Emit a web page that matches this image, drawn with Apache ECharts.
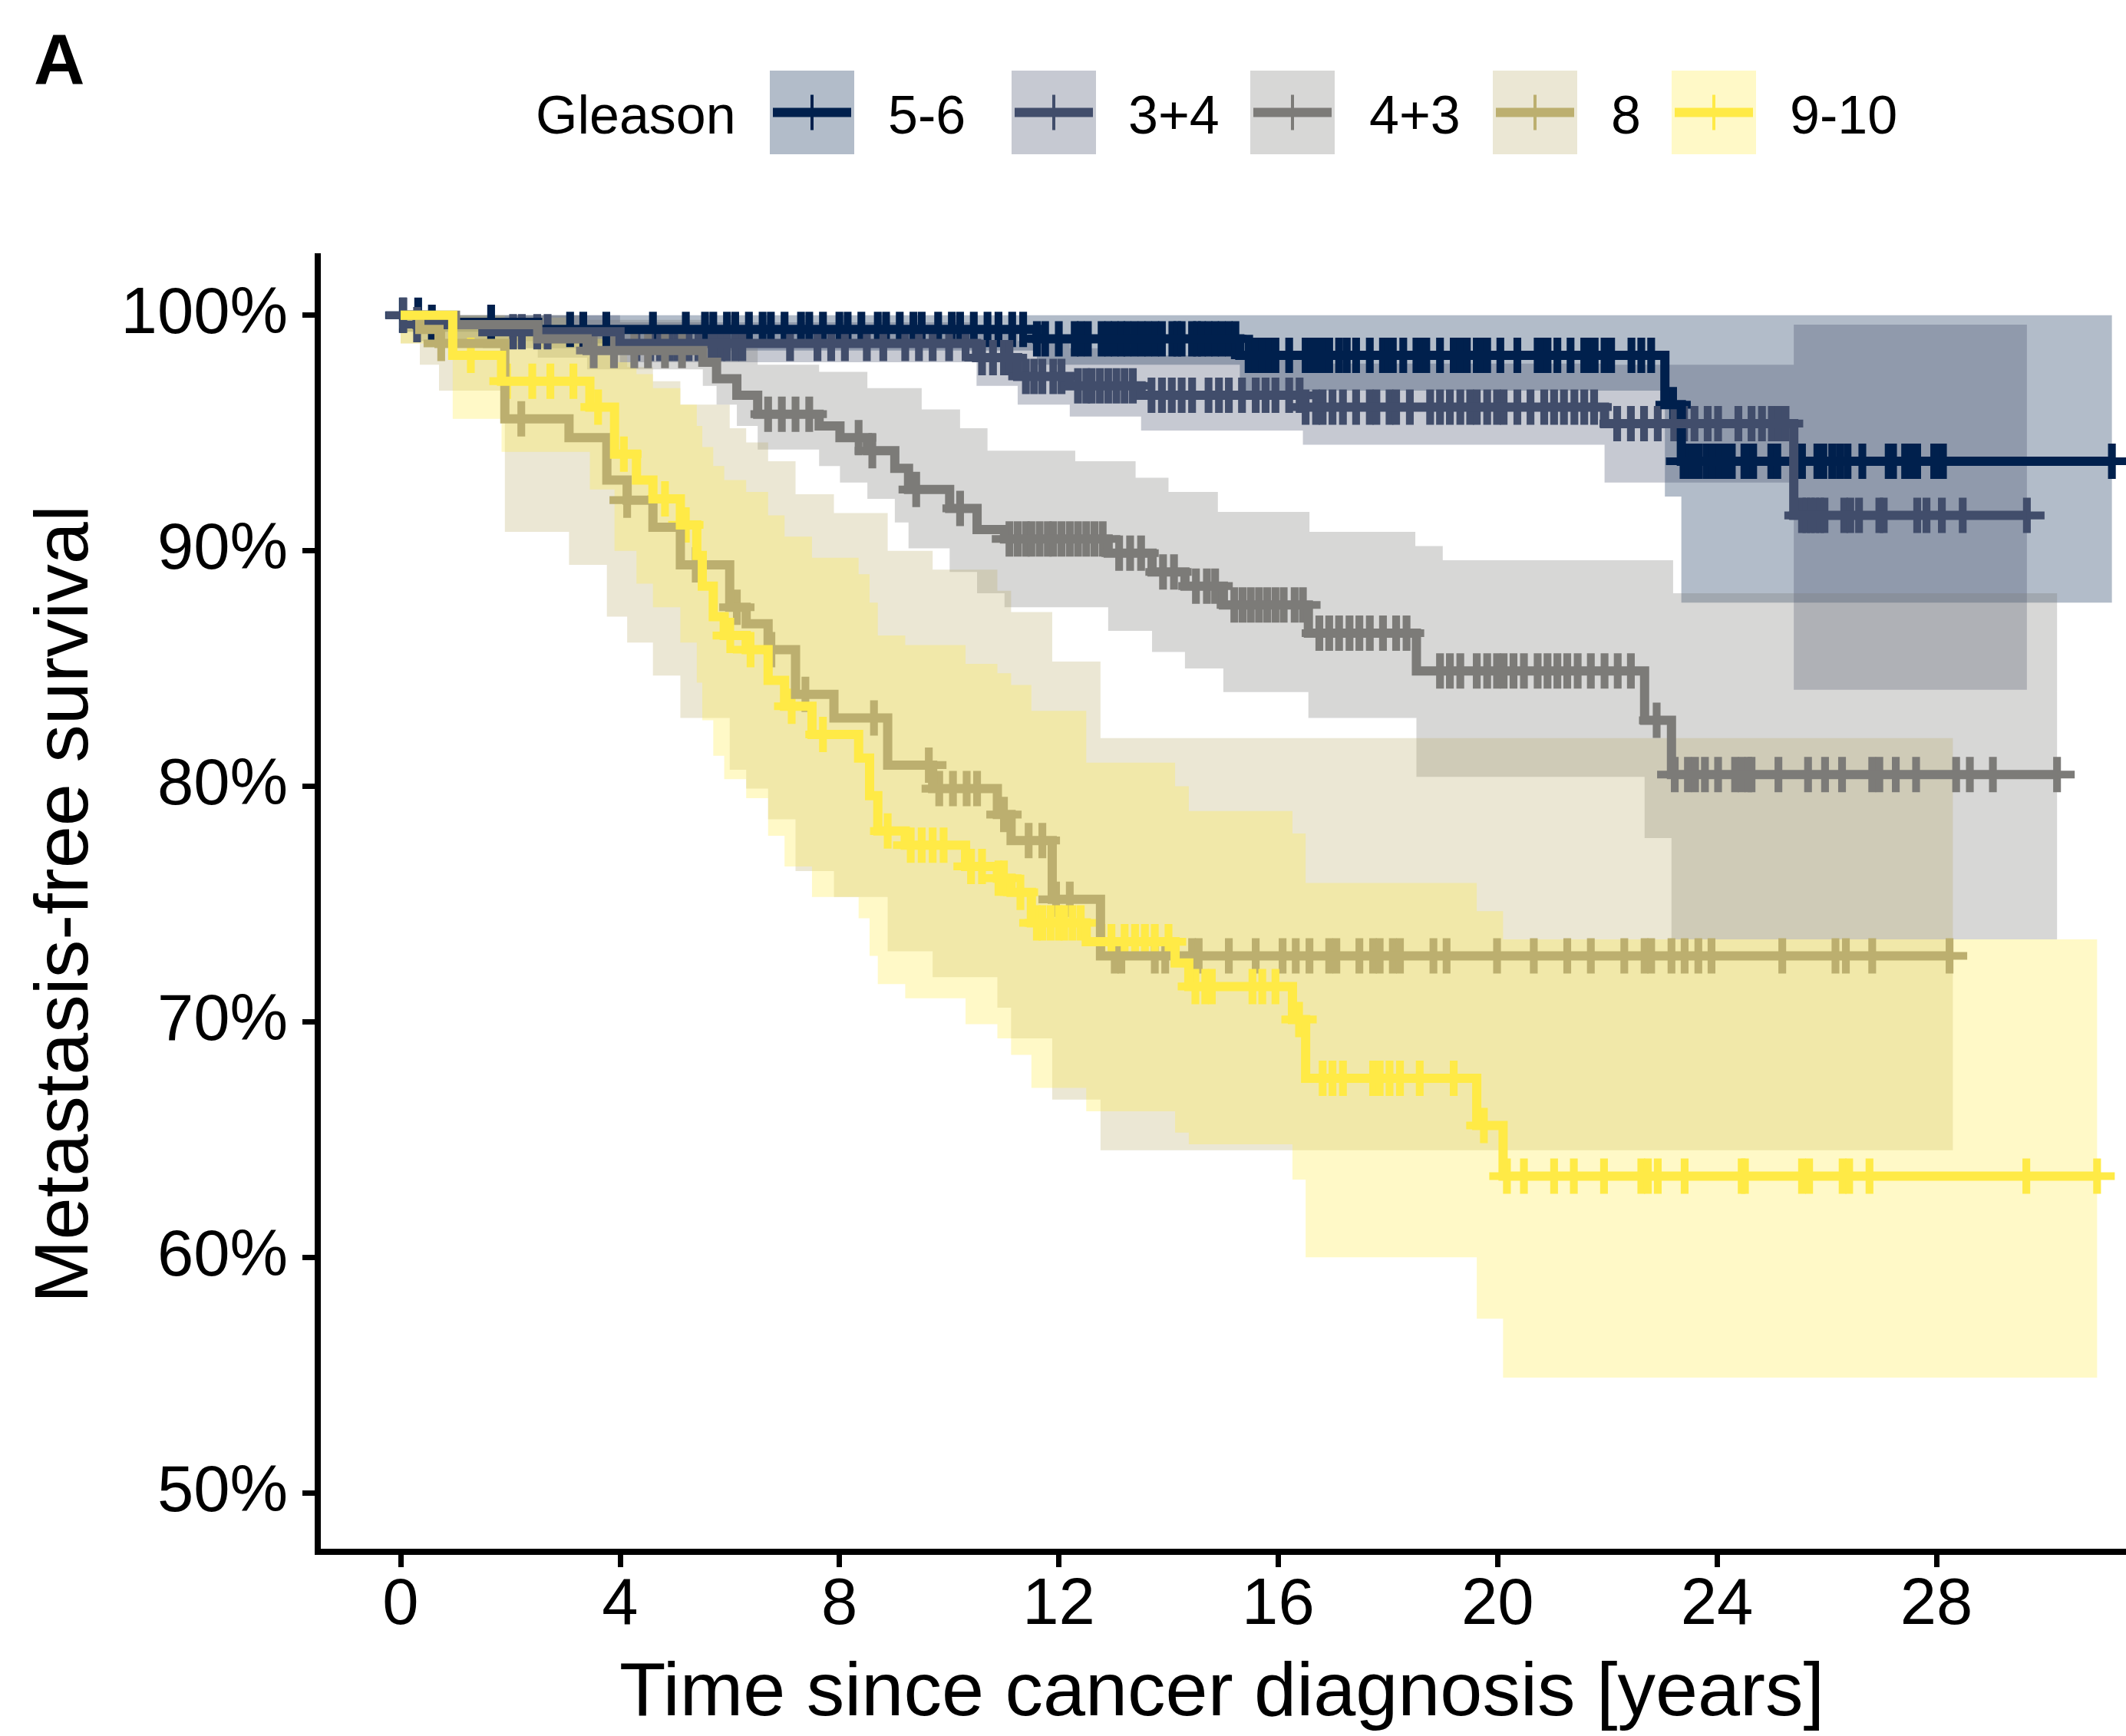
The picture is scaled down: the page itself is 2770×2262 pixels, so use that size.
<!DOCTYPE html>
<html>
<head>
<meta charset="utf-8">
<title>Metastasis-free survival by Gleason score</title>
<script src="https://cdn.jsdelivr.net/npm/echarts@6/dist/echarts.min.js"></script>
<style>
  html, body { margin: 0; padding: 0; background: #ffffff; }
  #chart { width: 2770px; height: 2262px; }
</style>
</head>
<body>
<div id="chart"></div>
<script>
// ---- data -------------------------------------------------------------
const groupNames = ['5-6', '3+4', '4+3', '8', '9-10'];
const xTickValues = [0, 4, 8, 12, 16, 20, 24, 28];
const yTickValues = [50, 60, 70, 80, 90, 100];

// Kaplan-Meier estimates: [time in years, survival %] at each step
const surv_5_6 = [[0,100],[0.45,99.7],[2.5,99.4],[11.6,99.0],[15.3,98.3],[23.05,96.2],[23.35,93.8]];
const surv_3_4 = [[0,100],[0.3,99.6],[1.5,99.3],[4.0,98.8],[10.5,98.2],[11.25,97.4],[12.2,97.0],[13.5,96.6],[16.45,96.1],[21.95,95.4],[25.4,91.5]];
const surv_4_3 = [[0,100],[1.0,99.6],[2.5,99.0],[3.4,98.5],[5.51,98.0],[5.76,97.3],[6.13,96.6],[6.51,95.8],[7.63,95.3],[8.01,94.8],[8.51,94.25],[9.01,93.5],[9.26,92.6],[10.01,91.8],[10.51,90.9],[11.01,90.5],[12.9,89.9],[13.7,89.1],[14.3,88.5],[15.0,87.7],[16.55,86.5],[18.52,84.9],[22.68,82.8],[23.17,80.5]];
const surv_8 = [[0,100],[0.35,99.4],[0.7,98.8],[1.9,95.6],[3.07,94.8],[3.76,93.0],[4.13,92.15],[4.6,91.0],[5.1,89.4],[6.0,87.6],[6.3,86.9],[6.7,85.8],[7.2,83.9],[7.9,82.9],[8.88,80.9],[9.7,79.9],[10.88,78.8],[11.13,77.7],[11.88,75.2],[12.76,72.8]];
const surv_9_10 = [[0,100],[0.95,98.3],[1.84,97.2],[3.45,96.1],[3.9,94.1],[4.3,93.0],[4.6,92.2],[5.1,91.1],[5.4,89.8],[5.5,88.5],[5.7,87.2],[5.9,86.4],[6.3,85.8],[6.7,84.5],[7.0,83.4],[7.5,82.2],[8.35,81.2],[8.55,79.6],[8.7,78.1],[9.2,77.5],[10.3,76.6],[10.88,76.1],[11.13,75.5],[11.5,74.2],[12.5,73.4],[14.12,72.5],[14.37,71.5],[16.26,70.1],[16.5,67.6],[19.62,65.6],[20.1,63.45]];

// last follow-up time of each group
const lastTime = [31.2, 29.65, 30.2, 28.3, 30.93];

// 95% confidence limits, as steps
const upper_5_6 = [[0,100]];
const lower_5_6 = [[0,99.7],[0.45,99.3],[2.5,98.8],[6.0,98.5],[11.6,97.9],[15.3,96.8],[23.05,92.3],[23.35,87.8]];
const upper_3_4 = [[0,100],[4.0,99.7],[10.5,99.4],[11.25,98.9],[12.2,98.6],[13.5,98.3],[16.45,97.95],[21.95,97.9],[25.4,99.6]];
const lower_3_4 = [[0,99.3],[0.3,98.9],[1.5,98.6],[4.0,98.0],[10.5,97.0],[11.25,96.2],[12.2,95.7],[13.5,95.1],[16.45,94.5],[21.95,92.9],[25.4,84.1]];
const upper_4_3 = [[0,100],[3.4,99.8],[5.51,99.5],[5.76,99.1],[6.13,98.6],[6.51,97.9],[7.63,97.6],[8.51,96.9],[9.5,96.0],[10.2,95.2],[10.7,94.25],[12.3,93.8],[13.4,93.1],[14.0,92.5],[14.9,91.65],[16.57,90.8],[18.5,90.2],[19.0,89.6],[23.2,88.2]];
const lower_4_3 = [[0,99.3],[1.0,98.9],[2.5,98.2],[3.4,97.7],[5.51,97.0],[5.76,96.2],[6.13,95.3],[6.51,94.3],[7.63,93.6],[8.01,92.9],[8.51,92.2],[9.01,91.2],[9.26,90.1],[10.01,89.1],[10.51,88.2],[11.01,87.6],[12.9,86.6],[13.7,85.7],[14.3,85.0],[15.0,84.0],[16.55,82.9],[18.52,80.4],[22.68,77.8],[23.17,73.5]];
const upper_8 = [[0,100],[1.9,99.9],[3.07,99.2],[3.76,98.3],[4.13,97.8],[4.6,97.2],[5.1,96.2],[6.0,95.2],[6.3,94.6],[6.7,93.8],[7.2,92.4],[7.9,91.6],[8.88,90.0],[9.7,89.2],[10.88,88.3],[11.13,87.4],[11.88,85.3],[12.76,82.05]];
const lower_8 = [[0,98.8],[0.35,97.9],[0.7,96.8],[1.9,90.8],[3.07,89.4],[3.76,87.2],[4.13,86.1],[4.6,84.7],[5.1,82.9],[6.0,80.7],[6.3,79.9],[6.7,78.6],[7.2,76.4],[7.9,75.3],[8.88,73.0],[9.7,71.9],[10.88,70.6],[11.13,69.3],[11.88,66.7],[12.76,64.55]];
const upper_9_10 = [[0,100],[0.95,99.9],[1.84,99.5],[3.45,99.0],[3.9,98.0],[4.3,97.5],[4.6,96.9],[5.1,96.2],[5.4,95.3],[5.5,94.4],[5.7,93.6],[5.9,93.0],[6.3,92.5],[6.7,91.5],[7.0,90.6],[7.5,89.7],[8.35,89.0],[8.55,87.8],[8.7,86.4],[9.2,86.0],[10.3,85.2],[10.88,84.8],[11.13,84.3],[11.5,83.2],[12.5,81.0],[14.12,80.0],[14.37,78.95],[16.26,78.0],[16.5,75.9],[19.62,74.7],[20.1,73.5]];
const lower_9_10 = [[0,98.8],[0.95,95.6],[1.84,94.2],[3.45,92.6],[3.9,90.0],[4.3,88.6],[4.6,87.6],[5.1,86.1],[5.4,84.4],[5.5,82.8],[5.7,81.3],[5.9,80.3],[6.3,79.5],[6.7,77.9],[7.0,76.6],[7.5,75.3],[8.35,74.4],[8.55,72.8],[8.7,71.6],[9.2,71.0],[10.3,69.9],[10.88,69.3],[11.13,68.6],[11.5,67.2],[12.5,66.2],[14.12,65.3],[14.37,64.8],[16.26,63.3],[16.5,60.0],[19.62,57.4],[20.1,54.9]];

// censoring times (years)
const censor_5_6 = [0.04,0.32,0.57,1.65,3.09,3.33,3.75,4.6,5.2,5.55,5.7,5.95,6.1,6.35,6.6,6.75,7.0,7.3,7.45,7.7,8.0,8.15,8.4,8.7,8.85,9.1,9.35,9.5,9.8,10.05,10.2,10.45,10.7,10.9,11.15,11.35,11.6,11.75,12.0,12.29,12.4,12.53,12.78,12.9,13.02,13.14,13.25,13.38,13.51,13.63,13.76,13.88,14.07,14.16,14.24,14.43,14.52,14.61,14.73,14.85,14.97,15.1,15.22,15.46,15.58,15.71,15.83,15.95,16.2,16.5,16.6,16.69,16.81,16.93,17.11,17.25,17.42,17.67,17.91,18.0,18.09,18.28,18.52,18.61,18.7,18.95,19.2,19.32,19.44,19.62,19.71,19.81,20.05,20.36,20.73,20.82,20.91,21.09,21.33,21.58,21.68,21.77,21.95,22.07,22.44,22.62,22.8,23.2,23.39,23.47,23.56,23.67,23.81,23.92,24.05,24.16,24.27,24.5,24.58,24.66,24.99,25.1,25.55,25.83,25.94,26.1,26.24,26.38,26.65,27.13,27.21,27.43,27.54,27.65,27.96,28.04,28.12,31.2];
const censor_3_4 = [0.05,0.3,2.05,2.21,2.49,2.68,4.3,4.55,4.73,4.91,5.05,5.25,5.43,5.67,5.75,5.85,5.95,6.1,6.23,7.1,7.6,7.85,8.1,8.5,8.8,9.2,9.45,9.7,10.0,10.3,10.6,10.8,11.0,11.1,11.4,11.55,11.7,11.9,12.05,12.35,12.5,12.6,12.75,12.9,13.05,13.2,13.35,13.69,13.88,14.06,14.24,14.43,14.73,14.92,15.1,15.34,15.59,15.77,15.95,16.2,16.39,16.5,16.69,16.81,16.99,17.18,17.42,17.67,17.79,18.03,18.15,18.4,18.77,18.95,19.13,19.32,19.5,19.62,19.81,19.99,20.11,20.36,20.6,20.85,21.03,21.21,21.4,21.58,21.76,22.18,22.43,22.67,22.92,23.22,23.4,23.59,23.83,24.02,24.39,24.63,24.82,25.0,25.12,25.25,25.55,25.63,25.71,25.79,25.88,25.96,26.32,26.43,26.59,26.96,27.04,27.65,27.82,28.1,28.48,29.65];
const censor_4_3 = [3.52,3.89,4.26,4.51,4.82,5.13,6.7,6.95,7.2,7.45,8.35,8.6,9.4,10.2,11.1,11.25,11.4,11.5,11.65,11.8,11.9,12.05,12.2,12.35,12.5,12.65,12.8,13.1,13.3,13.5,13.9,14.1,14.5,14.7,14.85,15.2,15.35,15.5,15.65,15.8,15.95,16.1,16.3,16.45,16.75,16.93,17.11,17.3,17.48,17.67,17.91,18.15,18.34,18.95,19.13,19.32,19.62,19.81,19.99,20.11,20.29,20.48,20.73,20.91,21.09,21.27,21.46,21.7,21.95,22.19,22.43,22.9,23.23,23.47,23.6,23.78,24.02,24.33,24.45,24.57,24.63,25.12,25.66,25.97,26.28,26.83,26.96,27.26,27.63,28.36,28.61,29.03,30.2];
const censor_8 = [0.74,2.2,4.13,5.38,6.13,6.76,7.38,8.63,9.63,9.82,10.07,10.32,10.51,11.0,11.45,11.7,11.95,12.2,13.02,13.14,13.75,13.94,14.43,14.55,15.1,15.59,16.08,16.32,16.57,16.93,17.06,17.48,17.73,17.85,18.09,18.22,18.83,19.07,19.99,20.66,21.27,21.7,22.31,22.68,22.8,23.17,23.41,23.66,23.9,25.19,26.16,26.35,26.83,28.24];
const censor_9_10 = [1.28,1.94,2.4,2.73,3.15,3.6,4.07,4.82,5.2,6.01,6.38,7.13,7.7,8.88,9.3,9.5,9.7,9.9,10.4,10.6,10.9,11.0,11.3,11.6,11.7,11.85,12.0,12.1,12.25,12.4,12.78,12.96,13.2,13.39,13.57,13.75,14.0,14.49,14.67,14.79,15.53,15.71,15.95,16.38,16.81,16.99,17.18,17.73,17.85,18.03,18.22,18.58,19.2,19.75,20.17,20.48,21.03,21.39,21.94,22.62,22.74,22.92,23.41,24.45,24.51,25.55,25.68,26.29,26.41,26.78,29.64,30.93];

// ---- styling ----------------------------------------------------------
const lineColors = ['#00204D', '#414D6B', '#7C7B78', '#BCAF6F', '#FFEA46'];
const ribbonAlpha = 0.3;
const FONT = '"Liberation Sans", Arial, Helvetica, sans-serif';
const plusSymbol = 'path://M39,0H61V39H100V61H61V100H39V61H0V39H39Z';

const survival = [surv_5_6, surv_3_4, surv_4_3, surv_8, surv_9_10];
const uppers = [upper_5_6, upper_3_4, upper_4_3, upper_8, upper_9_10];
const lowers = [lower_5_6, lower_3_4, lower_4_3, lower_8, lower_9_10];
const censors = [censor_5_6, censor_3_4, censor_4_3, censor_8, censor_9_10];

function hexToRgba(hex, a) {
  const n = parseInt(hex.slice(1), 16);
  return 'rgba(' + ((n >> 16) & 255) + ',' + ((n >> 8) & 255) + ',' + (n & 255) + ',' + a + ')';
}

// turn [[t, v], ...] into the corner points of a right-continuous step curve
function stepPath(steps, tEnd) {
  const pts = [];
  for (let i = 0; i < steps.length; i++) {
    if (i > 0) pts.push([steps[i][0], steps[i - 1][1]]);
    pts.push([steps[i][0], steps[i][1]]);
  }
  pts.push([tEnd, steps[steps.length - 1][1]]);
  return pts;
}

// value of a step curve at time t
function valueAt(steps, t) {
  let v = steps[0][1];
  for (const [s, val] of steps) {
    if (s <= t) v = val; else break;
  }
  return v;
}

const series = [];

// confidence bands
groupNames.forEach((name, i) => {
  const upperPts = stepPath(uppers[i], lastTime[i]);
  const lowerPts = stepPath(lowers[i], lastTime[i]).reverse();
  series.push({
    type: 'custom',
    name: name + ' CI',
    coordinateSystem: 'cartesian2d',
    silent: true,
    clip: true,
    data: [[0, 100]],
    renderItem: function (params, api) {
      const points = upperPts.concat(lowerPts).map(p => api.coord(p));
      return {
        type: 'polygon',
        shape: { points: points },
        style: { fill: hexToRgba(lineColors[i], ribbonAlpha), stroke: null }
      };
    }
  });
});

// survival curves
groupNames.forEach((name, i) => {
  series.push({
    type: 'line',
    name: name,
    data: stepPath(survival[i], lastTime[i]),
    showSymbol: false,
    silent: true,
    lineStyle: { color: lineColors[i], width: 12, cap: 'butt', join: 'miter' }
  });
});

// censoring marks
groupNames.forEach((name, i) => {
  series.push({
    type: 'scatter',
    name: name + ' censored',
    data: censors[i].map(t => [t, valueAt(survival[i], t)]),
    symbol: plusSymbol,
    symbolSize: 46,
    silent: true,
    itemStyle: { color: lineColors[i], opacity: 1 }
  });
});

// legend drawn as graphic elements: key box with band colour, line and plus
const legendKeyLeft = [1003, 1318, 1629, 1945, 2178];
const legendLabelLeft = [1157, 1470, 1784, 2099, 2332];
const legendTop = 92, keyW = 110, keyH = 109;
const legendTextY = legendTop + keyH / 2 + 8;
const graphics = [
  { type: 'text', left: 44, top: 38, style: { text: 'A', font: 'bold 92px ' + FONT, fill: '#000' } },
  { type: 'text', x: 698, y: legendTextY, style: { text: 'Gleason', font: '70px ' + FONT, fill: '#000', textVerticalAlign: 'middle', textAlign: 'left' } }
];
groupNames.forEach((name, i) => {
  const x0 = legendKeyLeft[i], cy = legendTop + keyH / 2, cx = x0 + keyW / 2;
  graphics.push({ type: 'rect', shape: { x: x0, y: legendTop, width: keyW, height: keyH }, style: { fill: hexToRgba(lineColors[i], ribbonAlpha) } });
  graphics.push({ type: 'line', shape: { x1: x0 + 4, y1: cy, x2: x0 + keyW - 4, y2: cy }, style: { stroke: lineColors[i], lineWidth: 12 } });
  graphics.push({ type: 'line', shape: { x1: cx, y1: cy - 23, x2: cx, y2: cy + 23 }, style: { stroke: lineColors[i], lineWidth: 4 } });
  graphics.push({ type: 'text', x: legendLabelLeft[i], y: legendTextY, style: { text: name, font: '70px ' + FONT, fill: '#000', textVerticalAlign: 'middle', textAlign: 'left' } });
});

const chart = echarts.init(document.getElementById('chart'), null, { renderer: 'canvas', width: 2770, height: 2262 });
chart.setOption({
  animation: false,
  backgroundColor: '#ffffff',
  textStyle: { fontFamily: FONT },
  grid: { left: 414, right: 0, top: 334, bottom: 235, containLabel: false },
  xAxis: {
    type: 'value',
    min: -1.511,
    max: 31.457,
    name: 'Time since cancer diagnosis [years]',
    nameLocation: 'middle',
    nameGap: 136,
    nameTextStyle: { fontSize: 99, color: '#000', fontFamily: FONT },
    axisLine: { show: true, onZero: false, lineStyle: { color: '#000', width: 8, cap: 'square' } },
    axisTick: { show: true, length: 20, lineStyle: { color: '#000', width: 7 }, customValues: xTickValues },
    axisLabel: { customValues: xTickValues, fontSize: 85, color: '#000', margin: 28, fontFamily: FONT },
    splitLine: { show: false }
  },
  yAxis: {
    type: 'value',
    min: 47.5,
    max: 102.5,
    name: 'Metastasis-free survival',
    nameLocation: 'middle',
    nameGap: 278,
    nameTextStyle: { fontSize: 99, color: '#000', fontFamily: FONT },
    axisLine: { show: true, onZero: false, lineStyle: { color: '#000', width: 8, cap: 'square' } },
    axisTick: { show: true, length: 20, lineStyle: { color: '#000', width: 7 }, customValues: yTickValues },
    axisLabel: { customValues: yTickValues, formatter: v => v + '%', fontSize: 85, color: '#000', margin: 39, fontFamily: FONT },
    splitLine: { show: false }
  },
  graphic: graphics,
  series: series
});
</script>
</body>
</html>
